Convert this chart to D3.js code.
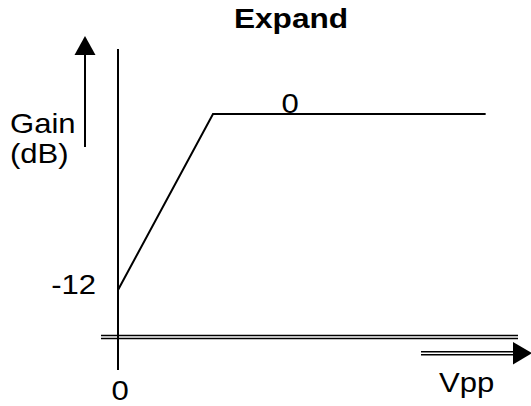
<!DOCTYPE html>
<html><head><meta charset="utf-8">
<script src="https://cdn.jsdelivr.net/npm/d3@7"></script>
<style>body{margin:0;background:#fff}svg{display:block}text{font-family:"Liberation Sans",Arial,sans-serif;fill:#000}</style>
</head><body>
<script>
const title = "Expand";
const vpp = [0, 1, 3.87];
const gain = [-12, 0, 0];
const yTickValues = [-12];
const yTickLabels = ["-12"];
const xTickValues = [0];
const xTickLabels = ["0"];
const levelLabel = "0";
const yLabel = ["Gain", "(dB)"];
const xLabel = "Vpp";

const W = 531, H = 406, SX = 1.15;
const svg = d3.select("body").append("svg").attr("width", W).attr("height", H);
const x = d3.scaleLinear().domain([0, 1]).range([118, 213]);
const y = d3.scaleLinear().domain([-12, 0]).range([290, 114]);

function txt(t, px, py, size, anchor, weight) {
  const el = svg.append("text").text(t)
    .attr("transform", `translate(${px},${py}) scale(${SX},1)`)
    .attr("font-size", size).attr("text-anchor", anchor || "start");
  if (weight) el.attr("font-weight", weight);
  return el;
}

// double horizontal axis line
svg.append("line").attr("x1", 101).attr("x2", 518).attr("y1", 337).attr("y2", 337)
  .attr("stroke", "#000").attr("stroke-width", 4.5);
svg.append("line").attr("x1", 100).attr("x2", 519).attr("y1", 337).attr("y2", 337)
  .attr("stroke", "#fff").attr("stroke-width", 1.4);

// vertical axis
svg.append("line").attr("x1", x(0)).attr("x2", x(0)).attr("y1", 49).attr("y2", 370)
  .attr("stroke", "#000").attr("stroke-width", 2);

// curve
svg.append("path").datum(vpp.map((v, i) => [v, gain[i]]))
  .attr("d", d3.line().x(d => x(d[0])).y(d => y(d[1])))
  .attr("fill", "none").attr("stroke", "#000").attr("stroke-width", 2);

// gain arrow
svg.append("line").attr("x1", 85).attr("x2", 85).attr("y1", 147).attr("y2", 54)
  .attr("stroke", "#000").attr("stroke-width", 2);
svg.append("path").attr("d", "M85,36 L74.5,55 L95.5,55 Z").attr("fill", "#000");

// Vpp double arrow
svg.append("line").attr("x1", 421).attr("x2", 515).attr("y1", 353.2).attr("y2", 353.2)
  .attr("stroke", "#000").attr("stroke-width", 4.5);
svg.append("line").attr("x1", 420).attr("x2", 515).attr("y1", 353.2).attr("y2", 353.2)
  .attr("stroke", "#fff").attr("stroke-width", 1.4);
svg.append("path").attr("d", "M532,353.2 L513,342 L513,364.5 Z").attr("fill", "#000");

// texts
txt(title, 291, 28, 27.5, "middle", "bold");
txt(yLabel[0], 10, 133, 27, "start");
txt(yLabel[1], 10, 163, 27, "start");
yTickValues.forEach((v, i) => txt(yTickLabels[i], 96, y(v) + 4, 27, "end"));
xTickValues.forEach((v, i) => txt(xTickLabels[i], x(v) + 2, 400, 27, "middle"));
txt(levelLabel, 290, y(0) - 1, 27, "middle");
txt(xLabel, 439, 392, 27, "start");
</script>
</body></html>
